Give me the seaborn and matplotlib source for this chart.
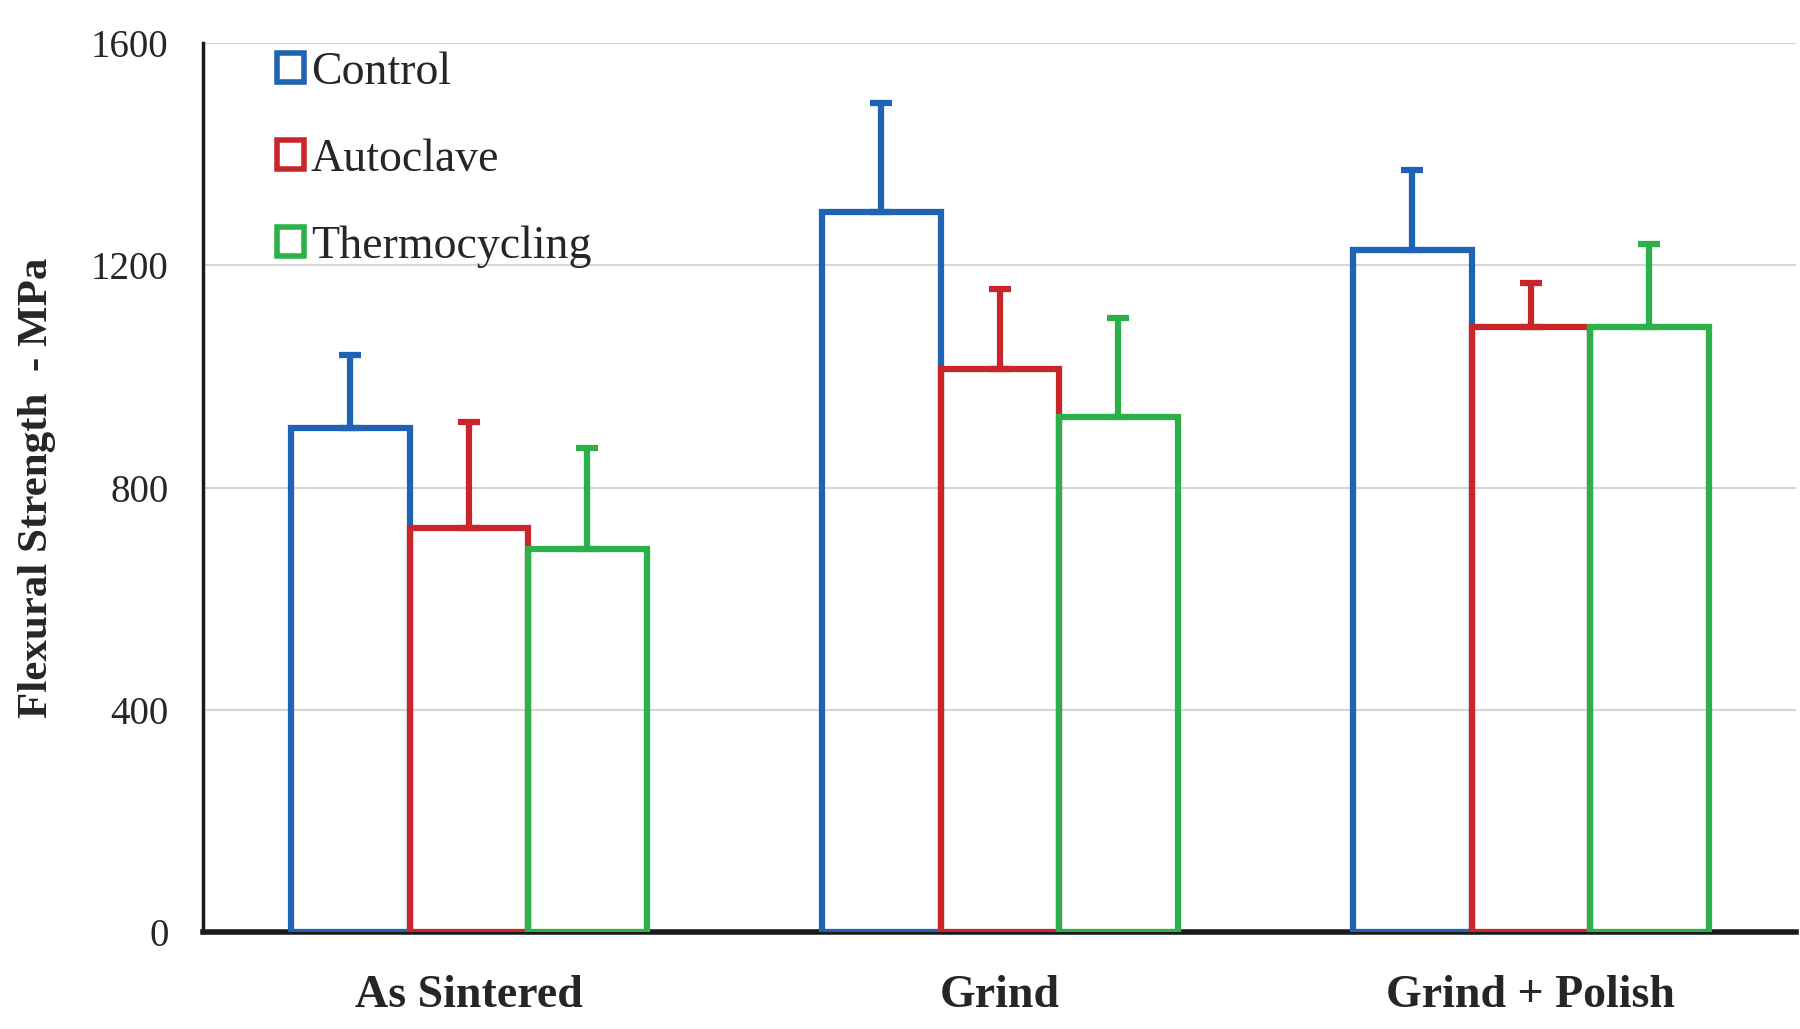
import numpy as np
import pandas as pd
import matplotlib
matplotlib.use("Agg")
import matplotlib.pyplot as plt
import seaborn as sns

# data (MPa)
surfaces = ["As Sintered", "Grind", "Grind + Polish"]
treatments = ["Control", "Autoclave", "Thermocycling"]
control_mean = [907, 1296, 1228]
autoclave_mean = [728, 1013, 1089]
thermo_mean = [690, 928, 1089]
control_sd = [131, 196, 144]
autoclave_sd = [190, 144, 79]
thermo_sd = [182, 178, 149]
yticks = [0, 400, 800, 1200, 1600]

colors = ["#1f63b5", "#c8262a", "#2bb04a"]

means = [control_mean, autoclave_mean, thermo_mean]
sds = [control_sd, autoclave_sd, thermo_sd]
rows = []
for t, m, s in zip(treatments, means, sds):
    for surf, v, e in zip(surfaces, m, s):
        rows.append({"Surface": surf, "Treatment": t, "Strength": v, "SD": e})
df = pd.DataFrame(rows)

sns.set_style("white")
plt.rcParams["font.family"] = ["Liberation Serif", "DejaVu Serif"]

fig = plt.figure(figsize=(18, 10.29), dpi=100)
ax = fig.add_axes([0.113, 0.094, 0.885, 0.864])

sns.barplot(data=df, x="Surface", y="Strength", hue="Treatment",
            order=surfaces, hue_order=treatments, palette=colors,
            width=0.67, gap=0, fill=False, errorbar=None,
            linewidth=4.5, ax=ax, zorder=3)

# upward-only error bars, same colour as each bar
bars = [p for p in ax.patches if p.get_height() > 0]
for p, (_, r) in zip(bars, df.iterrows()):
    x = p.get_x() + p.get_width() / 2
    ax.errorbar(x, r["Strength"], yerr=[[0], [r["SD"]]], fmt="none",
                ecolor=p.get_edgecolor(), elinewidth=4.5, capsize=8,
                capthick=4.5, zorder=4)

ax.set_ylim(0, 1600)
ax.set_xlim(-0.5, 2.5)
ax.set_yticks(yticks)
ax.yaxis.grid(True, color="#d9d4d4", linewidth=1.5, zorder=0)
ax.set_axisbelow(True)

for side in ["top", "right"]:
    ax.spines[side].set_visible(False)
ax.spines["left"].set_linewidth(2.5)
ax.spines["bottom"].set_linewidth(4)
ax.spines["left"].set_color("#1a1a1a")
ax.spines["bottom"].set_color("#1a1a1a")

ax.tick_params(axis="y", direction="out", length=7, width=2.5, labelsize=28, pad=18)
ax.tick_params(axis="x", length=0, labelsize=33, pad=31)
for lab in ax.get_xticklabels():
    lab.set_fontweight("bold")

ax.set_xlabel("")
ax.set_ylabel("Flexural Strength  - MPa", fontsize=31, fontweight="bold", labelpad=25)

handles, labels = ax.get_legend_handles_labels()
leg = ax.legend(handles, labels, loc="upper left", bbox_to_anchor=(0.02, 1.037),
                frameon=False, fontsize=33, handlelength=0.6, handleheight=0.6,
                handletextpad=0.15, labelspacing=0.97)
for h in leg.legend_handles:
    h.set_linewidth(4)

fig.savefig("out.png", dpi=100)
